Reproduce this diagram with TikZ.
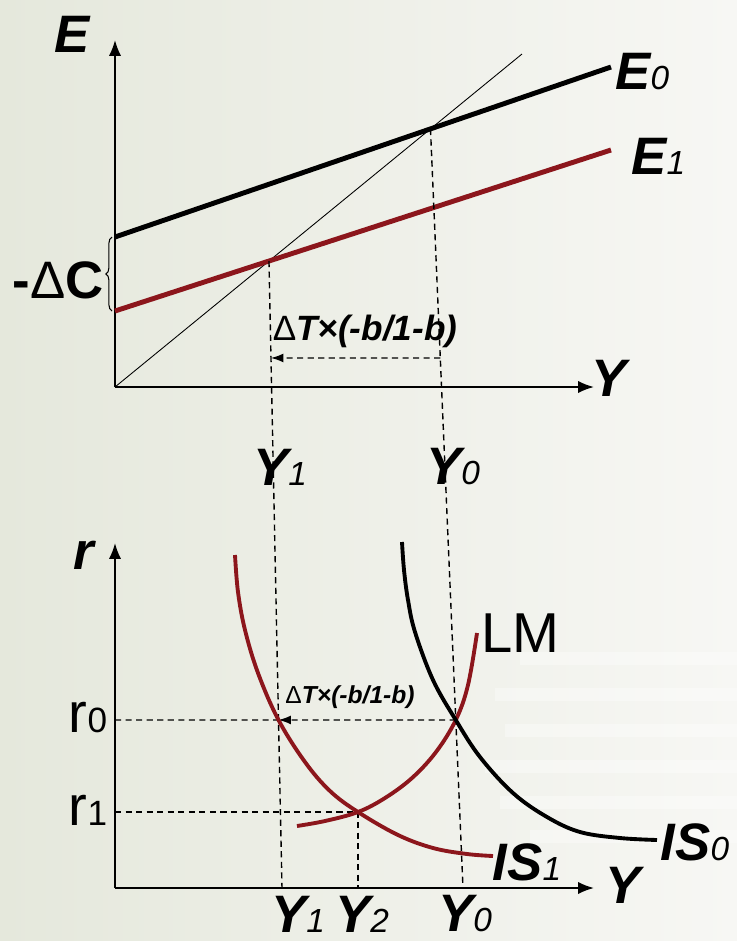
\documentclass[tikz,border=0pt]{standalone}
\usepackage{fontspec}
\setmainfont{Liberation Sans}
\usepackage{tikz}
\usetikzlibrary{arrows.meta,calc,decorations.pathreplacing}
\definecolor{curvered}{RGB}{140,22,28}
\definecolor{bgleft}{RGB}{229,232,220}
\definecolor{bgright}{RGB}{247,247,244}
\newcommand{\axlab}[2]{{\fontsize{30}{30}\selectfont\bfseries\itshape #1}{\fontsize{19}{19}\selectfont\itshape #2}}
\newcommand{\ratelab}[1]{{\fontsize{32}{32}\selectfont r}{\fontsize{20}{20}\selectfont #1}}
\newcommand{\dtlab}[1]{{\fontsize{#1}{#1}\selectfont{\upshape Δ}{\bfseries\itshape T×(-b/1-b)}}}

\begin{document}
\begin{tikzpicture}[
  x=0.02cm, y=-0.02cm,
  axis/.style={line width=1.1pt, -{Latex[length=9pt,width=7pt]}},
  guide/.style={line width=0.8pt, dash pattern=on 3.5pt off 2.5pt},
  shiftarrow/.style={guide, -{Latex[length=7pt,width=5pt]}},
  sched/.style={line width=2.8pt},
  curve/.style={line width=2.2pt},
  lab/.style={inner sep=0pt}
]
% background
\useasboundingbox (0,0) rectangle (737,941);
\shade[left color=bgleft, right color=bgright] (0,0) rectangle (737,941);
\foreach \yy/\xs in {652/520, 688/495, 724/505, 760/485, 796/500, 830/530}
  \fill[white, opacity=0.35] (\xs,\yy) rectangle (737,\yy+13);

% upper panel: expenditure
\coordinate (O1) at (115,387);
\coordinate (Etip) at (115,40);
\coordinate (Ytip1) at (594,387);
\coordinate (D) at (522,54);
\coordinate (E0a) at (115,237);
\coordinate (E0b) at (611,67);
\coordinate (E1a) at (115,311);
\coordinate (E1b) at (611,150);
\coordinate (A0) at (intersection of O1--D and E0a--E0b);
\coordinate (A1) at (intersection of O1--D and E1a--E1b);

\draw[axis] (O1) -- (Etip);
\draw[axis] (O1) -- (Ytip1);
\draw[line width=0.5pt] (O1) -- (D);
\draw[sched] (E0a) -- (E0b);
\draw[sched, curvered] (E1a) -- (E1b);
\draw[line width=0.6pt, decorate, decoration={brace, amplitude=3.5pt}] (112,311) -- (112,237);

\node[lab] (Elab) at (72,34) {\axlab{E}{}};
\node[lab] (Ylab1) at (609,378) {\axlab{Y}{}};
\node[lab, anchor=west] (E0lab) at (615,72) {\axlab{E}{0}};
\node[lab, anchor=west] (E1lab) at (631,156) {\axlab{E}{1}};
\node[lab] (dC) at (58,280) {\fontsize{30}{30}\selectfont{\bfseries -}Δ{\bfseries C}};

% lower panel: IS-LM
\coordinate (O2) at (115,888);
\coordinate (rtip) at (115,543);
\coordinate (Ytip2) at (594,888);
\coordinate (y1b) at (282,888);
\coordinate (y2b) at (358,888);
\coordinate (y0b) at (463,888);
\coordinate (r0) at (115,720);
\coordinate (r1) at (115,812);
\coordinate (B0) at (intersection of A0--y0b and 0,720--700,720);
\coordinate (B1) at (intersection of A1--y1b and 0,720--700,720);
\coordinate (B2) at (358,812);
\coordinate (P0) at (intersection of A0--y0b and 0,358--700,358);
\coordinate (P1) at (intersection of A1--y1b and 0,358--700,358);

% guides
\draw[guide] (A1) -- (y1b);
\draw[guide] (A0) -- (y0b);
\draw[shiftarrow] (P0) -- (P1);
\draw[guide] (r0) -- (B1);
\draw[shiftarrow] (B0) -- (B1);
\draw[guide] (r1) -- (B2) -- (y2b);

\draw[axis] (O2) -- (rtip);
\draw[axis] (O2) -- (Ytip2);

\draw[curve, curvered] plot[smooth, tension=0.6] coordinates {(235,555) (238,592) (245,630) (258,673) (B1) (305,762) (330,791) (B2) (398,835) (433,848) (467,854) (493,856)};
\draw[curve, curvered] plot[smooth, tension=0.6] coordinates {(297,826) (325,821) (B2) (385,798) (412,778) (436,752) (B0) (468,685) (477,633)};
\draw[curve] plot[smooth, tension=0.6] coordinates {(402,542) (404,570) (408,600) (415,632) (433,680) (B0) (480,757) (513,793) (547,817) (580,832) (620,838) (657,840)};

\node[lab] (dT1) at (365,331) {\dtlab{20}};
\node[lab] (dT2) at (350,697) {\dtlab{14}};
\node[lab] (Y1up) at (280,467) {\axlab{Y}{1}};
\node[lab] (Y0up) at (453,467) {\axlab{Y}{0}};
\node[lab] (Y1dn) at (298,914) {\axlab{Y}{1}};
\node[lab] (Y2dn) at (362,914) {\axlab{Y}{2}};
\node[lab] (Y0dn) at (465,914) {\axlab{Y}{0}};
\node[lab] (rlab) at (84,555) {\axlab{r}{}};
\node[lab] (Ylab2) at (623,885) {\axlab{Y}{}};
\node[lab] (r0lab) at (88,718) {\ratelab{0}};
\node[lab] (r1lab) at (88,810) {\ratelab{1}};
\node[lab, anchor=west] (LMlab) at (481,633) {\fontsize{32}{32}\selectfont LM};
\node[lab] (IS1lab) at (527,862) {\axlab{IS}{1}};
\node[lab] (IS0lab) at (695,842) {\axlab{IS}{0}};
\end{tikzpicture}
\end{document}
